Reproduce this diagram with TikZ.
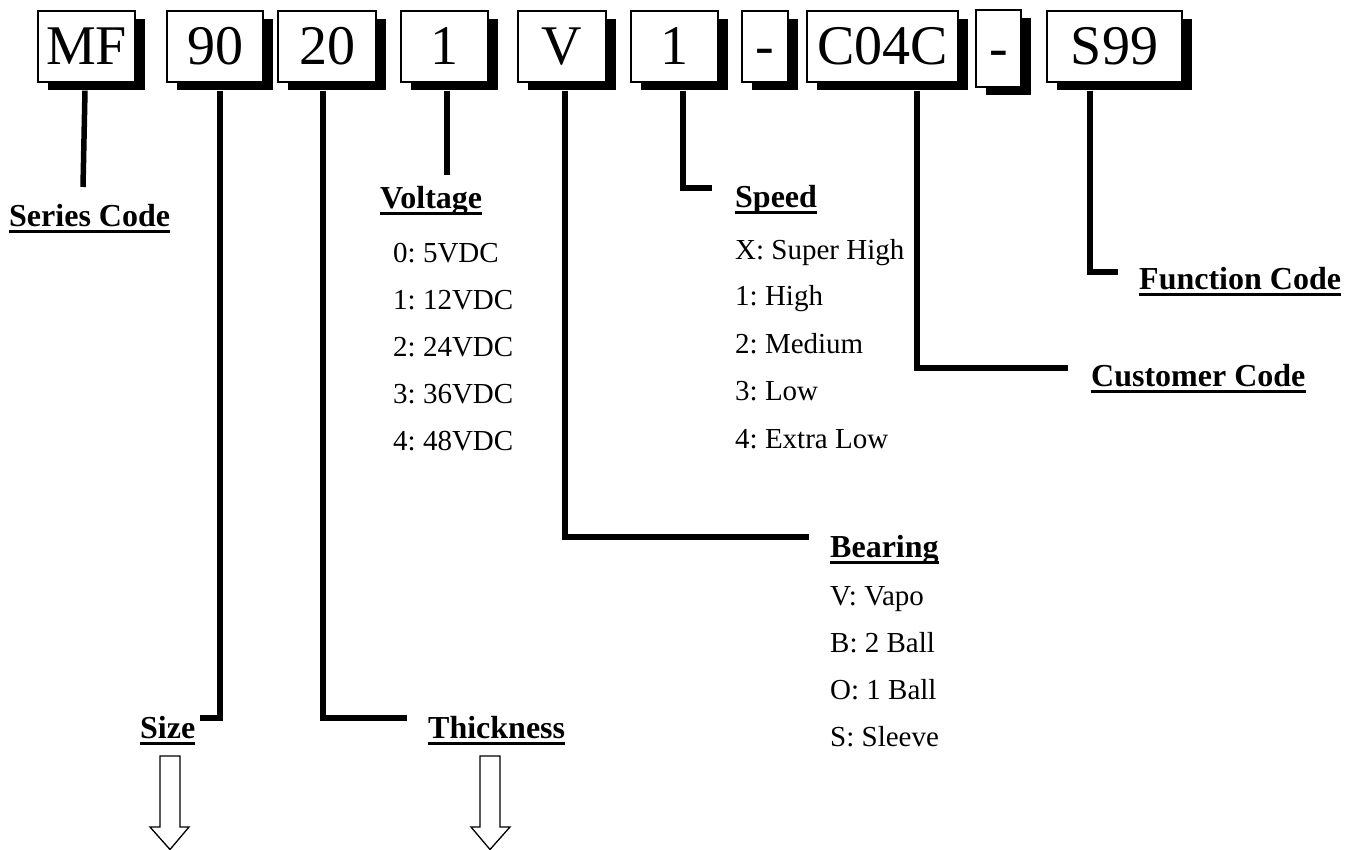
\documentclass[tikz,border=0pt]{standalone}
\usepackage{fontspec}
\setmainfont{Liberation Serif}
\usetikzlibrary{shadows}
\frenchspacing
\tikzset{
  codebox/.style={draw=black, line width=1.3pt, fill=white, inner sep=0pt,
    minimum height=71pt, text height=37pt, text depth=0pt,
    font=\fontsize{56}{60}\selectfont,
    drop shadow={shadow xshift=10pt, shadow yshift=-8pt, fill=black, opacity=1}},
  lbl/.style={anchor=base west, inner sep=0pt, font=\fontsize{32}{36}\selectfont\bfseries},
  item/.style={anchor=base west, inner sep=0pt, font=\fontsize{29}{32}\selectfont},
  conn/.style={line width=5.5pt, line cap=butt, line join=miter},
  uline/.style={line width=3pt},
  blockarrow/.style={draw=black, line width=1.3pt, fill=white, line join=miter}
}
\newcommand{\ulab}[1]{\draw[uline] ([yshift=-5pt]#1.base west) -- ([yshift=-5pt]#1.base east);}
\begin{document}
\begin{tikzpicture}[x=1pt,y=-1pt]
\useasboundingbox (0,0) rectangle (1345,850);
% code boxes
\node[codebox, minimum width=97pt] (b1) at (86.5,46.5) {MF};
\node[codebox, minimum width=96pt] (b2) at (215,46.5) {90};
\node[codebox, minimum width=98pt] (b3) at (327,46.5) {20};
\node[codebox, minimum width=87pt] (b4) at (444.5,46.5) {1};
\node[codebox, minimum width=88pt] (b5) at (562,46.5) {V};
\node[codebox, minimum width=87pt] (b6) at (674.5,46.5) {1};
\node[codebox, minimum width=46pt] (b7) at (765,46.5) {-};
\node[codebox, minimum width=151pt] (b8) at (882.5,46.5) {C04C};
\node[codebox, minimum width=45pt, minimum height=77pt] (b9) at (998.5,48.5) {-};
\node[codebox, minimum width=135pt] (b10) at (1114.5,46.5) {S99};
% labels
\node[lbl] (series) at (9,227) {Series Code}; \ulab{series}
\node[lbl] (volt) at (380,209) {Voltage}; \ulab{volt}
\node[lbl] (speed) at (735,208) {Speed}; \ulab{speed}
\node[lbl] (func) at (1139,290) {Function Code}; \ulab{func}
\node[lbl] (cust) at (1091,387) {Customer Code}; \ulab{cust}
\node[lbl] (bear) at (830,557) {Bearing}; \ulab{bear}
\node[lbl] (size) at (140,738) {Size}; \ulab{size}
\node[lbl] (thick) at (428,738) {Thickness}; \ulab{thick}
% items
\node[item] (v0) at (393,263) {0: 5VDC};
\node[item] (v1) at (393,310) {1: 12VDC};
\node[item] (v2) at (393,357) {2: 24VDC};
\node[item] (v3) at (393,403) {3: 36VDC};
\node[item] (v4) at (393,450) {4: 48VDC};
\node[item] (s0) at (735,260) {X: Super High};
\node[item] (s1) at (735,306) {1: High};
\node[item] (s2) at (735,354) {2: Medium};
\node[item] (s3) at (735,401) {3: Low};
\node[item] (s4) at (735,448) {4: Extra Low};
\node[item] (r0) at (830,605) {V: Vapo};
\node[item] (r1) at (830,652) {B: 2 Ball};
\node[item] (r2) at (830,699) {O: 1 Ball};
\node[item] (r3) at (830,746) {S: Sleeve};
% connector ends
\coordinate (e1) at (83,187);
\coordinate (e2) at (200,718);
\coordinate (e3) at (407,718);
\coordinate (e4) at (447,175);
\coordinate (e5) at (809,537);
\coordinate (e6) at (712,188);
\coordinate (e8) at (1068,368);
\coordinate (e10) at (1118,272);
% connectors
\draw[conn] ([xshift=-1.5pt,yshift=-8pt]b1.south) -- (e1);
\draw[conn] ([xshift=5pt,yshift=-8pt]b2.south) |- (e2);
\draw[conn] ([xshift=-4pt,yshift=-8pt]b3.south) |- (e3);
\draw[conn] ([xshift=2.5pt,yshift=-8pt]b4.south) -- (e4);
\draw[conn] ([xshift=3pt,yshift=-8pt]b5.south) |- (e5);
\draw[conn] ([xshift=8.5pt,yshift=-8pt]b6.south) |- (e6);
\draw[conn] ([xshift=34.5pt,yshift=-8pt]b8.south) |- (e8);
\draw[conn] ([xshift=-24.5pt,yshift=-8pt]b10.south) |- (e10);
% hollow arrows
\draw[blockarrow] (160,756) -- (180,756) -- (180,827) -- (189,827) -- (170,849.5) -- (150,827) -- (160,827) -- cycle;
\draw[blockarrow] (480,756) -- (500,756) -- (500,827) -- (510,827) -- (490,849.5) -- (471,827) -- (480,827) -- cycle;
\end{tikzpicture}
\end{document}
